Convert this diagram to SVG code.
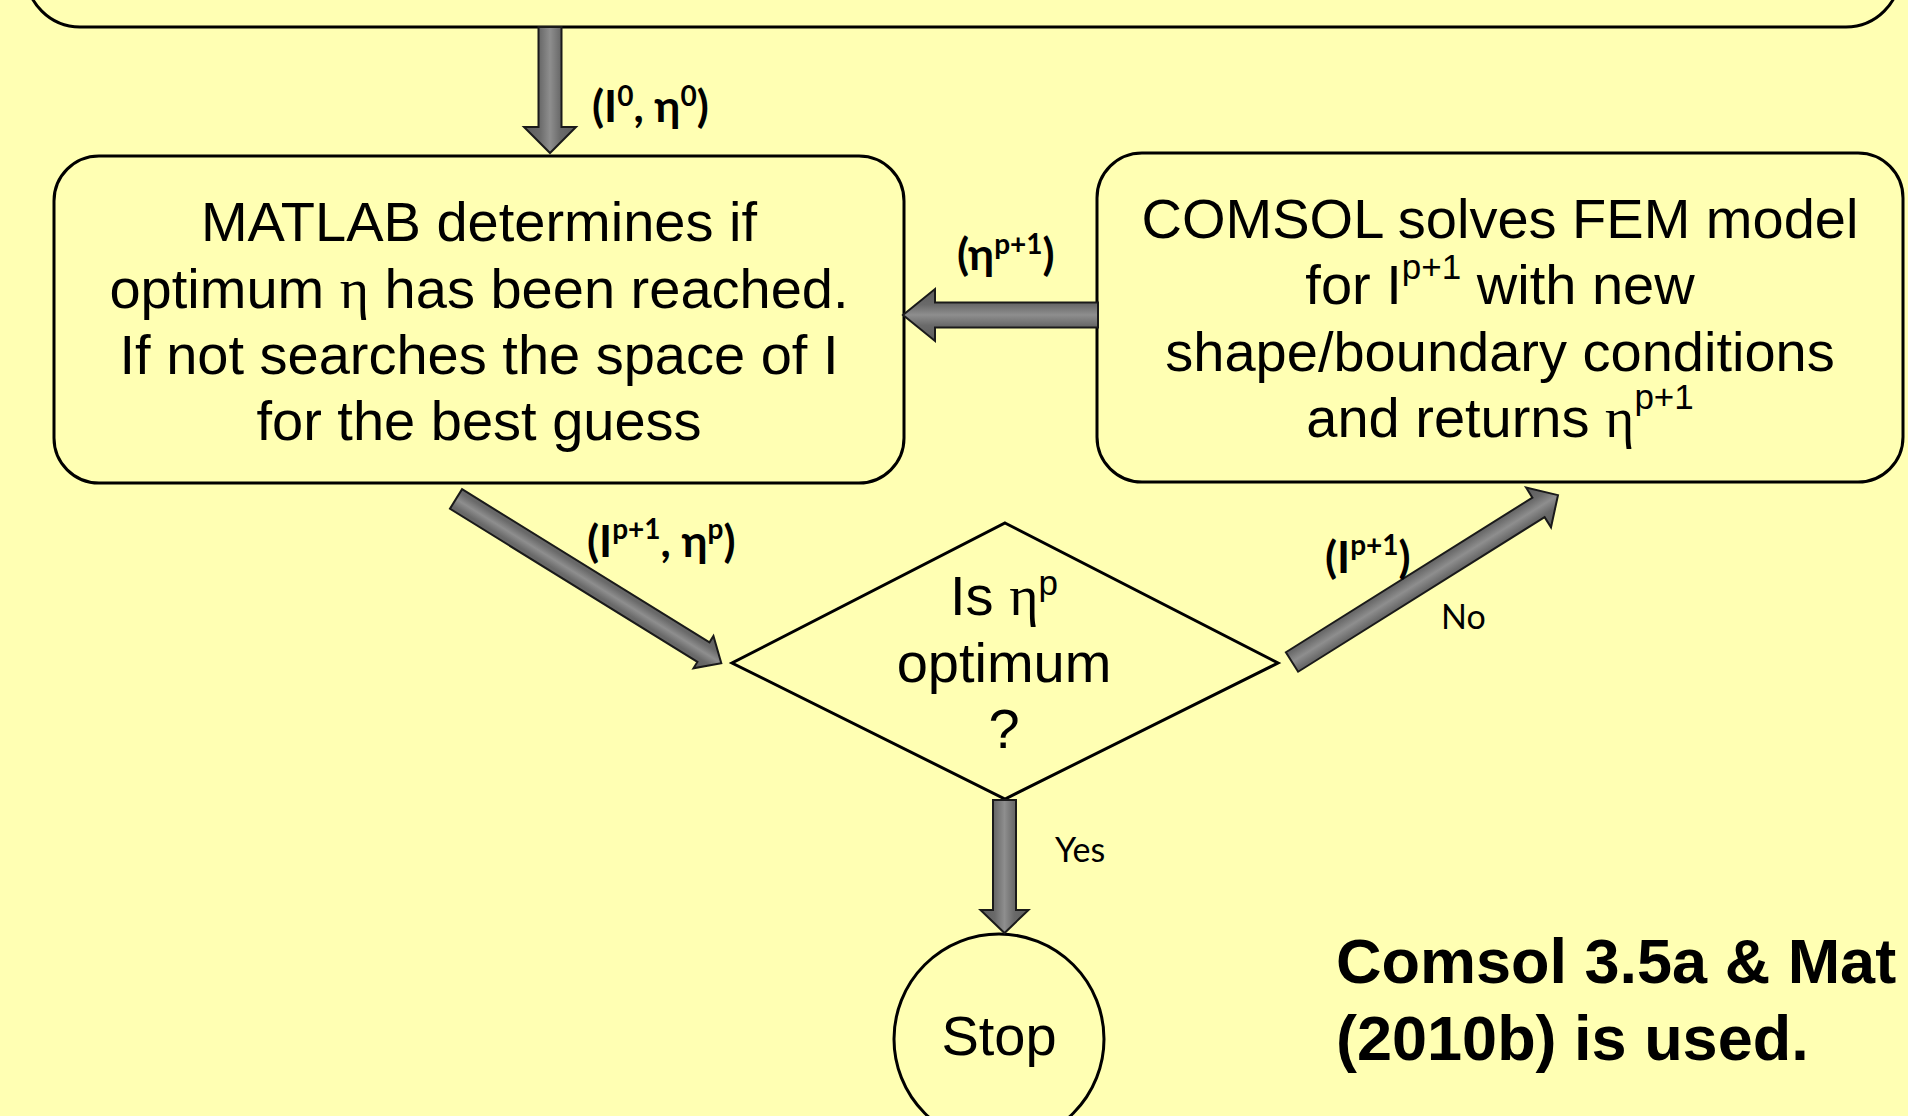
<svg xmlns="http://www.w3.org/2000/svg" width="1908" height="1116" viewBox="0 0 1908 1116">
<style>
.node{fill:#FFFFB3;stroke:#000;stroke-width:3}
.arrow{fill:url(#ag);stroke:#1a1a1a;stroke-width:2;stroke-linejoin:miter}
.bt{font-family:"Liberation Sans",Arial,sans-serif;font-size:56px;fill:#000;text-anchor:middle}
.gr{font-family:"Liberation Serif","Times New Roman",serif}
.sup{font-size:35px}
.lbl{font-family:Lato,"Noto Sans",sans-serif;font-weight:bold;font-size:44px;fill:#000}
.ls{font-size:28px}
.yn{font-family:Lato,"Noto Sans",sans-serif;font-size:34px;fill:#000}
.note{font-family:"Liberation Sans",Arial,sans-serif;font-weight:bold;font-size:63px;fill:#000}
</style>
<defs>
<linearGradient id="ag" x1="0" y1="0" x2="0" y2="1">
<stop offset="0" stop-color="#5c5c5c"/>
<stop offset="0.3" stop-color="#6a6a6a"/>
<stop offset="0.5" stop-color="#8e8e8e"/>
<stop offset="0.7" stop-color="#6a6a6a"/>
<stop offset="1" stop-color="#5c5c5c"/>
</linearGradient>
</defs>
<rect width="1908" height="1116" fill="#FFFFB3"/>

<g id="top-box">
<rect class="node" x="26" y="-100" width="1874" height="127" rx="54" ry="54"/>
</g>

<g id="matlab">
<rect class="node" x="54" y="156" width="850" height="327" rx="45" ry="45"/>
<text class="bt" x="479" y="241">MATLAB determines if</text>
<text class="bt" x="479" y="308">optimum <tspan class="gr">η</tspan> has been reached.</text>
<text class="bt" x="479" y="374">If not searches the space of I</text>
<text class="bt" x="479" y="440">for the best guess</text>
</g>

<g id="comsol">
<rect class="node" x="1097" y="153" width="806" height="329" rx="45" ry="45"/>
<text class="bt" x="1500" y="238">COMSOL solves FEM model</text>
<text class="bt" x="1500" y="304">for I<tspan class="sup" dy="-25">p+1</tspan><tspan dy="25"> with new</tspan></text>
<text class="bt" x="1500" y="371">shape/boundary conditions</text>
<text class="bt" x="1500" y="437">and returns <tspan class="gr">η</tspan><tspan class="sup" dy="-28">p+1</tspan></text>
</g>

<g id="decision">
<polygon class="node" points="1005,523 1278,663 1005,799 732,663"/>
<text class="bt" x="1004" y="615">Is <tspan class="gr">η</tspan><tspan class="sup" dy="-20">p</tspan></text>
<text class="bt" x="1004" y="682">optimum</text>
<text class="bt" x="1004" y="748">?</text>
</g>

<g id="stop">
<circle class="node" cx="999" cy="1039" r="105"/>
<text class="bt" x="999" y="1055">Stop</text>
</g>

<g id="connectors">
<path class="arrow" transform="translate(550,27) rotate(90)" d="M0,-11.5 L100,-11.5 L100,-26 L126,0 L100,26 L100,11.5 L0,11.5 Z"/>
<path class="arrow" transform="translate(1098,315) rotate(180)" d="M0,-12.5 L163,-12.5 L163,-26 L195,0 L163,26 L163,12.5 L0,12.5 Z"/>
<path class="arrow" transform="translate(456,499) rotate(31.75)" d="M0,-11.5 L291,-11.5 L291,-19 L312,0 L291,19 L291,11.5 L0,11.5 Z"/>
<path class="arrow" transform="translate(1292,662) rotate(-32.1)" d="M0,-11.5 L291,-11.5 L291,-23.5 L314,0 L291,23.5 L291,11.5 L0,11.5 Z"/>
<path class="arrow" transform="translate(1004.5,800) rotate(90)" d="M0,-11.5 L110,-11.5 L110,-24 L133,0 L110,24 L110,11.5 L0,11.5 Z"/>

<text class="lbl" x="592" y="122">(I<tspan class="ls" dy="-16">0</tspan><tspan dy="16">, η</tspan><tspan class="ls" dy="-16">0</tspan><tspan dy="16">)</tspan></text>
<text class="lbl" x="957" y="270">(η<tspan class="ls" dy="-16">p+1</tspan><tspan dy="16">)</tspan></text>
<text class="lbl" x="587" y="557">(I<tspan class="ls" dy="-18">p+1</tspan><tspan dy="18">, η</tspan><tspan class="ls" dy="-18">p</tspan><tspan dy="18">)</tspan></text>
<text class="lbl" x="1325" y="573">(I<tspan class="ls" dy="-18">p+1</tspan><tspan dy="18">)</tspan></text>
<text class="yn" x="1441" y="629">No</text>
<text class="yn" x="1055" y="862">Yes</text>
</g>

<g id="note">
<text class="note" x="1336" y="983">Comsol 3.5a &amp; Mat</text>
<text class="note" x="1336" y="1060">(2010b) is used.</text>
</g>
</svg>
